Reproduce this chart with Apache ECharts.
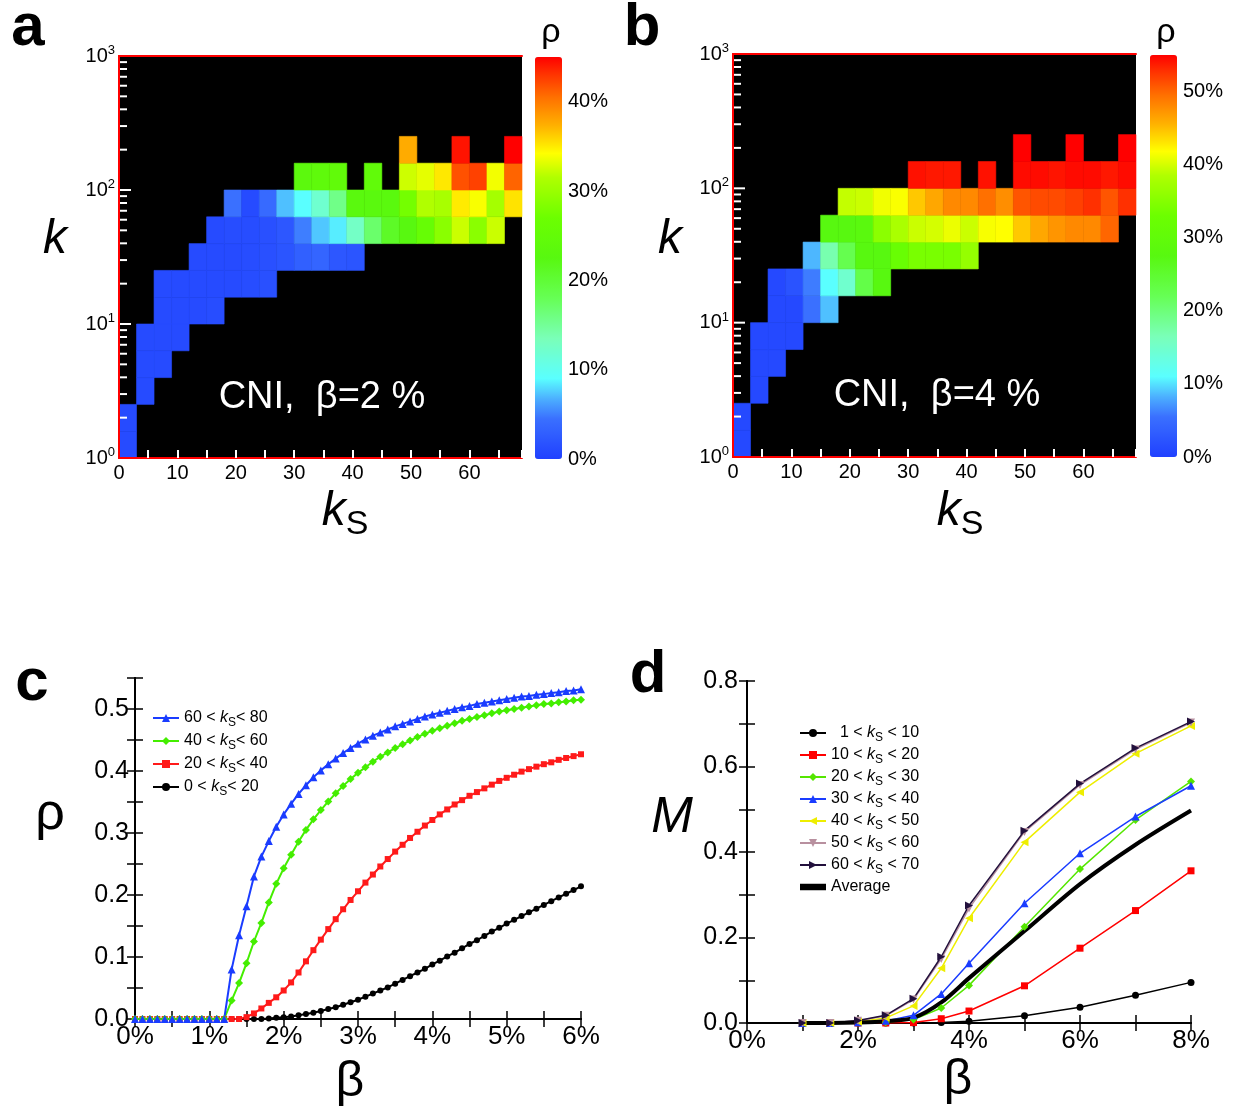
<!DOCTYPE html>
<html><head><meta charset="utf-8">
<script src="https://cdn.jsdelivr.net/npm/echarts@6/dist/echarts.min.js"></script>
<style>html,body{margin:0;padding:0;background:#fff}#main{width:1235px;height:1114px}</style>
</head><body><div id="main"></div>
<script>
const _ = null;
const FONT = 'Liberation Sans';
// ---------- Panels a/b : rho heatmaps, rows = log10(k) bins of 0.2, cols = kS bins of 3 ----------
const KS_BIN = 3;
const LOG_BIN = 0.2;
const ksTickLabels = [0, 10, 20, 30, 40, 50, 60];
const kDecadeLabels = {1: '10{sup|0}', 10: '10{sup|1}', 100: '10{sup|2}', 1000: '10{sup|3}'};
const kMinorTicks = [2,3,4,5,6,7,8,9,20,30,40,50,60,70,80,90,200,300,400,500,600,700,800,900];
const kMajorTicks = [10, 100];
const rhoTickLabels = [0, 10, 20, 30, 40, 50];
const rhoA = [ // percent, beta = 2%
  [1.0],
  [1.0],
  [_,1.0],
  [_,1.0,1.0],
  [_,1.0,1.0,1.0],
  [_,_,1.0,1.0,1.0,1.2],
  [_,_,1.0,1.0,1.0,1.0,1.0,1.2,1.5],
  [_,_,_,_,1.0,1.0,1.0,1.2,1.5,2.0,3.0,3.5,2.2,2.0],
  [_,_,_,_,_,1.0,1.2,1.2,1.5,2.2,5.0,7.4,8.5,12.6,17.0,21.0,22.5,25.6,29.0,32.4,29.0,32.4],
  [_,_,_,_,_,_,4.5,1.0,4.0,7.2,9.0,12.0,15.7,23.0,23.0,23.0,27.5,31.5,31.0,35.0,34.0,30.8,35.3],
  [_,_,_,_,_,_,_,_,_,_,23.5,24.0,24.5,_,24.5,_,32.5,33.3,35.1,41.8,42.5,33.8,41.0],
  [_,_,_,_,_,_,_,_,_,_,_,_,_,_,_,_,37.6,_,_,44.3,_,_,45.0]
];
const rhoB = [ // percent, beta = 4%
  [1.0],
  [1.0],
  [_,1.0],
  [_,1.0,1.0],
  [_,1.0,1.0,1.0],
  [_,_,1.0,1.0,5.5,8.8],
  [_,_,1.0,2.2,6.0,11.0,14.8,23.0,27.5],
  [_,_,_,_,8.5,17.0,22.5,27.5,27.5,32.0,34.0,34.0,34.0,36.3],
  [_,_,_,_,_,27.5,27.5,28.0,35.5,38.0,39.6,40.0,41.0,39.6,41.5,41.8,44.5,46.2,47.3,48.0,48.0,50.0],
  [_,_,_,_,_,_,39.3,39.6,41.2,41.6,44.5,46.2,48.0,48.0,49.5,47.7,50.9,51.4,51.4,52.0,52.8,50.9,52.8],
  [_,_,_,_,_,_,_,_,_,_,54.2,53.9,53.9,_,54.2,_,54.5,54.5,54.1,54.5,54.5,53.9,54.5],
  [_,_,_,_,_,_,_,_,_,_,_,_,_,_,_,_,55.0,_,_,55.0,_,_,55.0]
];
const rhoMaxA = 45, rhoMaxB = 55;
const colorStops = [
  [0.00,'#2040ff'],[0.10,'#3a70ff'],[0.15,'#4cb0ff'],[0.20,'#5affff'],[0.30,'#7affb8'],
  [0.40,'#66ff55'],[0.50,'#58f810'],[0.60,'#6cff00'],[0.70,'#b0ff00'],[0.76,'#ffff00'],
  [0.83,'#ffb000'],[0.90,'#ff7000'],[0.96,'#ff3000'],[1.00,'#ff0000']
];
// ---------- Panel c ----------
const betaC = [0,0.1,0.2,0.3,0.4,0.5,0.6,0.7,0.8,0.9,1.0,1.1,1.2,1.3,1.4,1.5,1.6,1.7,1.8,1.9,2.0,2.1,2.2,2.3,2.4,2.5,2.6,2.7,2.8,2.9,3.0,3.1,3.2,3.3,3.4,3.5,3.6,3.7,3.8,3.9,4.0,4.1,4.2,4.3,4.4,4.5,4.6,4.7,4.8,4.9,5.0,5.1,5.2,5.3,5.4,5.5,5.6,5.7,5.8,5.9,6.0];
const rhoC60_80 = [0,0,0,0,0,0,0,0,0,0,0,0,0,0.080,0.135,0.182,0.230,0.262,0.287,0.310,0.330,0.347,0.363,0.377,0.390,0.401,0.411,0.420,0.429,0.437,0.444,0.451,0.457,0.462,0.467,0.472,0.476,0.480,0.484,0.488,0.491,0.494,0.497,0.500,0.503,0.505,0.508,0.510,0.512,0.514,0.516,0.518,0.520,0.521,0.523,0.524,0.526,0.527,0.529,0.530,0.532];
const rhoC40_60 = [0,0,0,0,0,0,0,0,0,0,0,0,0,0.030,0.058,0.090,0.125,0.155,0.188,0.218,0.243,0.265,0.286,0.305,0.322,0.337,0.351,0.364,0.376,0.387,0.397,0.406,0.415,0.423,0.430,0.437,0.443,0.449,0.455,0.460,0.465,0.469,0.473,0.477,0.481,0.484,0.487,0.490,0.493,0.496,0.498,0.500,0.502,0.504,0.506,0.508,0.509,0.511,0.512,0.514,0.515];
const rhoC20_40 = [0,0,0,0,0,0,0,0,0,0,0,0,0,0,0,0.003,0.009,0.017,0.026,0.035,0.046,0.059,0.075,0.093,0.111,0.128,0.145,0.161,0.177,0.192,0.206,0.220,0.233,0.246,0.258,0.270,0.281,0.292,0.302,0.312,0.321,0.330,0.338,0.346,0.353,0.360,0.366,0.372,0.378,0.384,0.389,0.394,0.399,0.403,0.407,0.411,0.414,0.418,0.421,0.424,0.427];
const rhoC0_20 = [0,0,0,0,0,0,0,0,0,0,0,0,0,0,0,0,0,0,0.001,0.002,0.003,0.004,0.006,0.008,0.010,0.013,0.016,0.019,0.023,0.027,0.031,0.036,0.041,0.046,0.051,0.057,0.063,0.069,0.075,0.081,0.088,0.094,0.101,0.107,0.114,0.121,0.127,0.134,0.141,0.147,0.154,0.160,0.166,0.172,0.178,0.184,0.190,0.196,0.202,0.208,0.214];
const namesC = ['60 < kS< 80','40 < kS< 60','20 < kS< 40','0 < kS< 20'];
// ---------- Panel d ----------
const betaD = [1,1.5,2,2.5,3,3.5,4,5,6,7,8];
const mD1_10  = [0,0,0,0,0,0.001,0.004,0.017,0.037,0.065,0.095];
const mD10_20 = [0,0,0,0,0.001,0.010,0.028,0.087,0.175,0.263,0.356];
const mD20_30 = [0,0,0.001,0.002,0.008,0.035,0.088,0.225,0.360,0.475,0.565];
const mD30_40 = [0,0,0.002,0.005,0.018,0.068,0.140,0.280,0.397,0.483,0.555];
const mD40_50 = [0,0,0.003,0.012,0.040,0.128,0.245,0.423,0.540,0.630,0.695];
const mD50_60 = [0,0,0.005,0.017,0.055,0.150,0.268,0.447,0.557,0.640,0.703];
const mD60_70 = [0,0,0.006,0.018,0.057,0.155,0.275,0.450,0.560,0.643,0.705];
const mDavg   = [0,0,0.001,0.004,0.012,0.048,0.105,0.215,0.325,0.417,0.497];
const namesD = ['  1 < kS < 10','10 < kS < 20','20 < kS < 30','30 < kS < 40','40 < kS < 50','50 < kS < 60','60 < kS < 70','Average'];

// ---------- helpers ----------
function hex2rgb(h){return [parseInt(h.slice(1,3),16),parseInt(h.slice(3,5),16),parseInt(h.slice(5,7),16)];}
function buildPalette(stops,n){
  const out=[];
  for(let i=0;i<n;i++){
    const t=i/(n-1); let j=0;
    while(j<stops.length-2 && t>stops[j+1][0]) j++;
    const a=stops[j], b=stops[j+1]; const u=(t-a[0])/(b[0]-a[0]);
    const ca=hex2rgb(a[1]), cb=hex2rgb(b[1]);
    const c=ca.map((v,k)=>Math.round(v+(cb[k]-v)*u));
    out.push('rgb('+c.join(',')+')');
  }
  return out;
}
const palette = buildPalette(colorStops, 101);
function heatData(rows){
  const d=[];
  rows.forEach((row,r)=>row.forEach((v,c)=>{ if(v!==null && v!==undefined) d.push([c*KS_BIN, Math.pow(10,r*LOG_BIN), v]); }));
  return d;
}
function heatItem(params, api){
  const x0=api.value(0), k0=api.value(1);
  const p0=api.coord([x0,k0]);
  const p1=api.coord([x0+KS_BIN, k0*Math.pow(10,LOG_BIN)]);
  const col=api.visual('color');
  return {type:'rect', shape:{x:p0[0], y:p1[1], width:p1[0]-p0[0], height:p0[1]-p1[1]},
    style:{fill:col, stroke:col, lineWidth:0.6}};
}
function kTickItem(params, api){
  const k=api.value(1); const p=api.coord([0,k]);
  const len = kMajorTicks.indexOf(k)>=0 ? 12 : 8;
  return {type:'line', shape:{x1:p[0], y1:p[1], x2:p[0]+len, y2:p[1]}, style:{stroke:'#fff', lineWidth:2}};
}
const kTickData = kMinorTicks.concat(kMajorTicks).map(k=>[0,k]);
const lbl = {fontFamily:FONT, color:'#000'};
function heatAxes(gi){
  return {
    x:[
      {gridIndex:gi, type:'value', min:0, max:69, interval:5, z:10,
        axisLine:{lineStyle:{color:'#ff0000', width:2}},
        axisTick:{inside:true, length:8, lineStyle:{color:'#fff', width:2}},
        splitLine:{show:false},
        axisLabel:Object.assign({fontSize:20, margin:5, formatter:v=>ksTickLabels.indexOf(v)>=0?String(v):''}, lbl)},
      {gridIndex:gi, type:'value', position:'top', min:0, max:69, z:11,
        axisLine:{lineStyle:{color:'#ff0000', width:2}}, axisTick:{show:false}, axisLabel:{show:false}, splitLine:{show:false}}
    ],
    y:[
      {gridIndex:gi, type:'log', logBase:10, min:1, max:1000, z:11,
        axisLine:{lineStyle:{color:'#ff0000', width:2}}, axisTick:{show:false}, splitLine:{show:false},
        axisLabel:Object.assign({fontSize:20, margin:4, formatter:v=>kDecadeLabels[Math.round(v)]||'',
          rich:{sup:{fontSize:13, fontFamily:FONT, color:'#000', padding:[0,0,11,0]}}}, lbl)},
      {gridIndex:gi, type:'log', logBase:10, min:1, max:1000, position:'right', z:11,
        axisLine:{lineStyle:{color:'#ff0000', width:2}}, axisTick:{show:false}, axisLabel:{show:false}, splitLine:{show:false}}
    ]
  };
}
const hA=heatAxes(0), hB=heatAxes(1);
function cbAxes(gi,max){
  return {
    x:{gridIndex:gi, type:'value', show:false, min:0, max:1},
    y:{gridIndex:gi, type:'value', min:0, max:max, interval:10, position:'right',
      axisLine:{show:false}, axisTick:{show:false}, splitLine:{show:false},
      axisLabel:Object.assign({fontSize:20, margin:6, formatter:v=>rhoTickLabels.indexOf(v)>=0?v+'%':''}, lbl)}
  };
}
const cbA=cbAxes(2,rhoMaxA), cbB=cbAxes(3,rhoMaxB);
function frameAxes(gi, xmax, xint, xlab, ymax, yint, ylab, ymargin){
  const line={lineStyle:{color:'#000', width:2}};
  const tick={inside:true, length:8, lineStyle:{color:'#000', width:1.5}};
  return {
    x:[
      {gridIndex:gi, type:'value', min:0, max:xmax, interval:xint, axisLine:line, axisTick:tick, splitLine:{show:false},
        axisLabel:Object.assign({fontSize:26, margin:5, formatter:xlab}, lbl)},
      {gridIndex:gi, type:'value', position:'top', min:0, max:xmax, interval:xint, axisLine:line, axisTick:tick, splitLine:{show:false}, axisLabel:{show:false}}
    ],
    y:[
      {gridIndex:gi, type:'value', min:0, max:ymax, interval:yint, axisLine:line, axisTick:tick, splitLine:{show:false},
        axisLabel:Object.assign({fontSize:25, margin:ymargin, formatter:ylab}, lbl)},
      {gridIndex:gi, type:'value', position:'right', min:0, max:ymax, interval:yint, axisLine:line, axisTick:tick, splitLine:{show:false}, axisLabel:{show:false}}
    ]
  };
}
const isMult=(v,m)=>Math.abs(v/m-Math.round(v/m))<1e-6;
const fC=frameAxes(4, 6, 0.5, v=>isMult(v,1)?Math.round(v)+'%':'', 0.55, 0.05, v=>isMult(v,0.1)?v.toFixed(1):'', 6);
const fD=frameAxes(5, 8, 1, v=>isMult(v,2)?Math.round(v)+'%':'', 0.8, 0.1, v=>isMult(v,0.2)?v.toFixed(1):'', 9);

const zip=(xs,ys)=>xs.map((x,i)=>[x,ys[i]]);
function lineSeries(name, xi, xs, ys, color, symbol, size, width, extra){
  return Object.assign({type:'line', name:name, xAxisIndex:xi, yAxisIndex:xi, data:zip(xs,ys),
    symbol:symbol, symbolSize:size, showSymbol:symbol!=='none', lineStyle:{color:color, width:width},
    itemStyle:{color:color}, emphasis:{disabled:true}}, extra||{});
}
const legRich = {
  i:{fontStyle:'italic', fontSize:16, fontFamily:FONT, color:'#000'},
  s:{fontSize:12, fontFamily:FONT, color:'#000', padding:[9,0,0,0]}
};
const legFmt = n => n.replace('kS','{i|k}{s|S}');
const legDataD = namesD.map(n => n==='Average' ? {name:n, icon:'path://M0,0 L20,0 L20,5 L0,5 Z'} : n);

const option = {
  animation:false,
  backgroundColor:'#fff',
  grid:[
    {left:119, top:56, width:403, height:402, show:true, backgroundColor:'#000', borderWidth:0},
    {left:733, top:54, width:403, height:403, show:true, backgroundColor:'#000', borderWidth:0},
    {left:535, top:57, width:27, height:402},
    {left:1150, top:55, width:27, height:402},
    {left:135, top:678, width:446, height:341},
    {left:747, top:681, width:444, height:342}
  ],
  xAxis:[hA.x[0],hA.x[1],hB.x[0],hB.x[1],cbA.x,cbB.x,fC.x[0],fC.x[1],fD.x[0],fD.x[1]],
  yAxis:[hA.y[0],hA.y[1],hB.y[0],hB.y[1],cbA.y,cbB.y,fC.y[0],fC.y[1],fD.y[0],fD.y[1]],
  visualMap:[
    {type:'continuous', seriesIndex:0, dimension:2, min:0, max:rhoMaxA, calculable:false, hoverLink:false,
      left:535, top:57, itemWidth:27, itemHeight:402, padding:0, text:null, inRange:{color:palette}},
    {type:'continuous', seriesIndex:2, dimension:2, min:0, max:rhoMaxB, calculable:false, hoverLink:false,
      left:1150, top:55, itemWidth:27, itemHeight:402, padding:0, text:null, inRange:{color:palette}}
  ],
  legend:[
    {orient:'vertical', left:147, top:703, itemWidth:26, itemHeight:10, itemGap:2.5,
      textStyle:{fontSize:16, fontFamily:FONT, color:'#000', lineHeight:20, rich:legRich},
      formatter:legFmt, data:namesC, selectedMode:false},
    {orient:'vertical', left:794, top:718, itemWidth:26, itemHeight:10, itemGap:1.5,
      textStyle:{fontSize:16, fontFamily:FONT, color:'#000', lineHeight:20, rich:legRich},
      formatter:legFmt, data:legDataD, selectedMode:false}
  ],
  series:[
    {type:'custom', name:'heatA', xAxisIndex:0, yAxisIndex:0, dimensions:['ks','k','rho'], encode:{x:0,y:1},
      data:heatData(rhoA), renderItem:heatItem, silent:true},
    {type:'custom', name:'ticksA', xAxisIndex:0, yAxisIndex:0, encode:{x:0,y:1}, data:kTickData, renderItem:kTickItem, silent:true, z:3},
    {type:'custom', name:'heatB', xAxisIndex:2, yAxisIndex:2, dimensions:['ks','k','rho'], encode:{x:0,y:1},
      data:heatData(rhoB), renderItem:heatItem, silent:true},
    {type:'custom', name:'ticksB', xAxisIndex:2, yAxisIndex:2, encode:{x:0,y:1}, data:kTickData, renderItem:kTickItem, silent:true, z:3},
    lineSeries(namesC[3], 6, betaC, rhoC0_20, '#000000', 'circle', 6, 2),
    lineSeries(namesC[2], 6, betaC, rhoC20_40, '#ff1a1a', 'rect', 6, 2),
    lineSeries(namesC[1], 6, betaC, rhoC40_60, '#44ee00', 'diamond', 8, 2),
    lineSeries(namesC[0], 6, betaC, rhoC60_80, '#1a3cff', 'triangle', 8, 2),
    lineSeries(namesD[0], 8, betaD, mD1_10, '#000000', 'circle', 7, 1.5),
    lineSeries(namesD[1], 8, betaD, mD10_20, '#ff0000', 'rect', 7, 1.5),
    lineSeries(namesD[2], 8, betaD, mD20_30, '#55e600', 'diamond', 8, 1.5),
    lineSeries(namesD[3], 8, betaD, mD30_40, '#1a3cff', 'triangle', 8, 1.5),
    lineSeries(namesD[4], 8, betaD, mD40_50, '#eeee00', 'triangle', 8, 1.5, {symbolRotate:90}),
    lineSeries(namesD[5], 8, betaD, mD50_60, '#b8909f', 'triangle', 8, 1.5, {symbolRotate:180}),
    lineSeries(namesD[6], 8, betaD, mD60_70, '#22103c', 'triangle', 8, 1.5, {symbolRotate:-90}),
    lineSeries(namesD[7], 8, betaD, mDavg, '#000000', 'none', 0, 4, {smooth:0.3})
  ],
  graphic:[
    {type:'text', x:28, y:28, style:{text:'a', font:'bold 60px '+FONT, fill:'#000', align:'center', verticalAlign:'middle'}},
    {type:'text', x:642, y:28, style:{text:'b', font:'bold 60px '+FONT, fill:'#000', align:'center', verticalAlign:'middle'}},
    {type:'text', x:32, y:683, style:{text:'c', font:'bold 60px '+FONT, fill:'#000', align:'center', verticalAlign:'middle'}},
    {type:'text', x:648, y:675, style:{text:'d', font:'bold 60px '+FONT, fill:'#000', align:'center', verticalAlign:'middle'}},
    {type:'text', x:551, y:33, style:{text:'ρ', font:'34px '+FONT, fill:'#000', align:'center', verticalAlign:'middle'}},
    {type:'text', x:1166, y:33, style:{text:'ρ', font:'34px '+FONT, fill:'#000', align:'center', verticalAlign:'middle'}},
    {type:'text', x:55, y:240, style:{text:'k', font:'italic 48px '+FONT, fill:'#000', align:'center', verticalAlign:'middle'}},
    {type:'text', x:670, y:240, style:{text:'k', font:'italic 48px '+FONT, fill:'#000', align:'center', verticalAlign:'middle'}},
    {type:'text', x:345, y:512, style:{text:'{i|k}{s|S}', align:'center', verticalAlign:'middle',
      rich:{i:{fontSize:48, fontStyle:'italic', fontFamily:FONT, fill:'#000'}, s:{fontSize:34, fontFamily:FONT, fill:'#000', padding:[26,0,0,0]}}}},
    {type:'text', x:960, y:512, style:{text:'{i|k}{s|S}', align:'center', verticalAlign:'middle',
      rich:{i:{fontSize:48, fontStyle:'italic', fontFamily:FONT, fill:'#000'}, s:{fontSize:34, fontFamily:FONT, fill:'#000', padding:[26,0,0,0]}}}},
    {type:'text', x:322, y:398, z:100, style:{text:'CNI,  β=2 %', font:'38px '+FONT, fill:'#fff', align:'center', verticalAlign:'middle'}},
    {type:'text', x:937, y:396, z:100, style:{text:'CNI,  β=4 %', font:'38px '+FONT, fill:'#fff', align:'center', verticalAlign:'middle'}},
    {type:'text', x:50, y:815, style:{text:'ρ', font:'52px '+FONT, fill:'#000', align:'center', verticalAlign:'middle'}},
    {type:'text', x:350, y:1082, style:{text:'β', font:'50px '+FONT, fill:'#000', align:'center', verticalAlign:'middle'}},
    {type:'text', x:672, y:818, style:{text:'M', font:'italic 50px '+FONT, fill:'#000', align:'center', verticalAlign:'middle'}},
    {type:'text', x:958, y:1080, style:{text:'β', font:'50px '+FONT, fill:'#000', align:'center', verticalAlign:'middle'}}
  ]
};
const chart = echarts.init(document.getElementById('main'), null, {renderer:'canvas'});
chart.setOption(option);
</script></body></html>
